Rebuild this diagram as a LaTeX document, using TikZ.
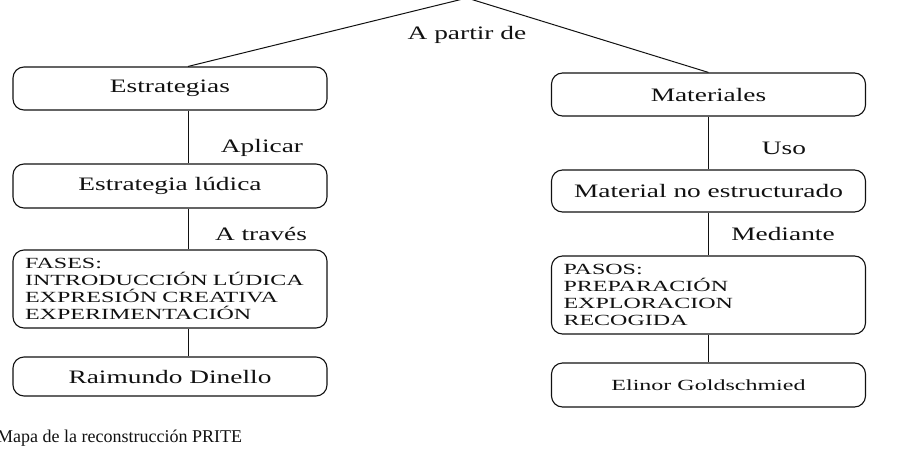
\documentclass[tikz,border=0pt]{standalone}
\usepackage{fontspec}
\setmainfont{Liberation Serif}
\newfontfamily\priteTitle[FakeStretch=1.44]{Liberation Serif}
\newfontfamily\priteList[FakeStretch=1.55]{Liberation Serif}
\newfontfamily\priteName[FakeStretch=1.55]{Liberation Serif}
\definecolor{priteInk}{HTML}{111111}
\tikzset{
  prite box/.style={draw=priteInk, line width=1.1pt, rounded corners=11pt, minimum width=314pt, inner sep=0pt, text=priteInk, font=\priteTitle\fontsize{19}{22}\selectfont},
  prite list/.style={prite box, text width=290pt, align=left, inner xsep=12pt, minimum height=78pt, font=\priteList\fontsize{15.5}{17}\selectfont},
  prite line/.style={draw=priteInk, line width=1pt},
  prite label/.style={font=\priteTitle\fontsize{19}{22}\selectfont, text=priteInk},
  prite caption/.style={font=\fontsize{18}{21}\selectfont, text=priteInk},
}
\begin{document}
\begin{tikzpicture}[x=1pt,y=-1pt]
  \useasboundingbox (0,0) rectangle (913,474);
  \coordinate (apex) at (467,-2);
  % left column
  \node[prite box, minimum height=43pt] (estr) at (170,88.5) {Estrategias};
  \node[prite box, minimum height=44pt] (ludica) at (170,186) {Estrategia lúdica};
  \node[prite list] (fases) at (170,289) {FASES:\\INTRODUCCIÓN LÚDICA\\EXPRESIÓN CREATIVA\\EXPERIMENTACIÓN};
  \node[prite box, minimum height=39pt] (dinello) at (170,376.5) {Raimundo Dinello};
  % right column
  \node[prite box, minimum height=43pt] (mat) at (708.5,94.5) {Materiales};
  \node[prite box, minimum height=42pt] (noestr) at (708.5,191) {Material no estructurado};
  \node[prite list] (pasos) at (708.5,295) {PASOS:\\PREPARACIÓN\\EXPLORACION\\RECOGIDA};
  \node[prite box, minimum height=44pt, font=\priteName\fontsize{15.5}{17}\selectfont] (elinor) at (708.5,385) {Elinor Goldschmied};
  % connectors
  \draw[prite line] (apex) -- ([xshift=18pt]estr.north);
  \draw[prite line] (apex) -- (mat.north);
  \draw[prite line] ([xshift=18pt]estr.south) -- ([xshift=18pt]ludica.north);
  \draw[prite line] ([xshift=18pt]ludica.south) -- ([xshift=18pt]fases.north);
  \draw[prite line] ([xshift=18pt]fases.south) -- ([xshift=18pt]dinello.north);
  \draw[prite line] (mat) -- (noestr);
  \draw[prite line] (noestr) -- (pasos);
  \draw[prite line] (pasos) -- (elinor);
  % labels
  \node[prite label] (partir) at (467,35) {A partir de};
  \node[prite label] (aplicar) at (262,148) {Aplicar};
  \node[prite label] (traves) at (261,234) {A través};
  \node[prite label] (uso) at (784,148) {Uso};
  \node[prite label] (mediante) at (783,234) {Mediante};
  \node[prite caption, anchor=west, inner sep=0pt] (caption) at (-3,438) {Mapa de la reconstrucción PRITE};
\end{tikzpicture}
\end{document}
